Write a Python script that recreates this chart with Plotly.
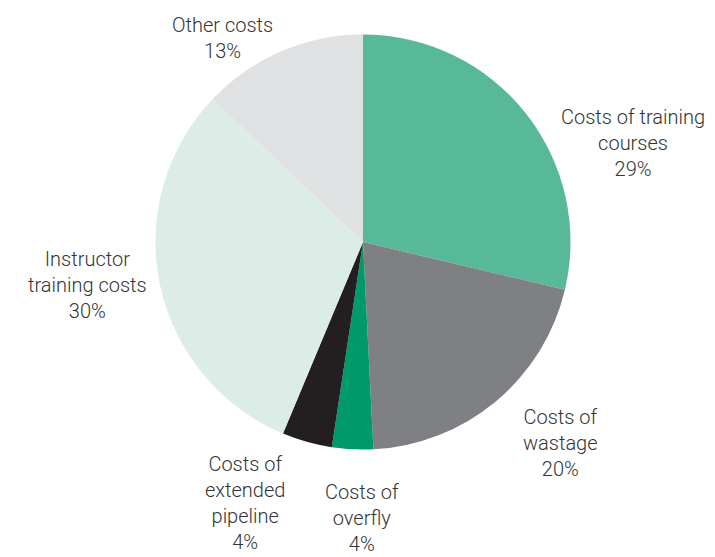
import plotly.graph_objects as go

categories = ["Costs of training courses", "Costs of wastage", "Costs of overfly",
              "Costs of extended pipeline", "Instructor training costs", "Other costs"]
values = [28.7, 20.5, 3.2, 3.9, 30.8, 12.9]
label_texts = ["Costs of training<br>courses<br>29%", "Costs of<br>wastage<br>20%",
               "Costs of<br>overfly<br>4%", "Costs of<br>extended<br>pipeline<br>4%",
               "Instructor<br>training costs<br>30%", "Other costs<br>13%"]
colors = ["#57b998", "#7f8083", "#00996a", "#231f20", "#dcede7", "#e0e1e3"]

W, H = 715, 557
cx, cy, r = 363, 242, 207.5

fig = go.Figure(go.Pie(
    labels=categories, values=values, sort=False, direction="clockwise", rotation=0,
    marker=dict(colors=colors, line=dict(width=0)),
    textinfo="none", hoverinfo="label+percent", showlegend=False,
    domain=dict(x=[(cx - r) / W, (cx + r) / W], y=[1 - (cy + r) / H, 1 - (cy - r) / H]),
))

label_pos = [(633, 143), (560, 443), (362, 518), (245, 503), (87, 285), (222, 38)]
for txt, (x, y) in zip(label_texts, label_pos):
    fig.add_annotation(x=x / W, y=1 - y / H, xref="paper", yref="paper", text=txt,
                       showarrow=False, xanchor="center", yanchor="middle", align="center",
                       font=dict(family="Roboto, Liberation Sans, Arial, sans-serif", size=20,
                                 color="#333333", weight=300))

fig.update_layout(width=W, height=H, margin=dict(l=0, r=0, t=0, b=0),
                  paper_bgcolor="white", plot_bgcolor="white")
fig.write_html("out.html", config={"displayModeBar": False},
               post_script="document.body.style.margin='0px';")
